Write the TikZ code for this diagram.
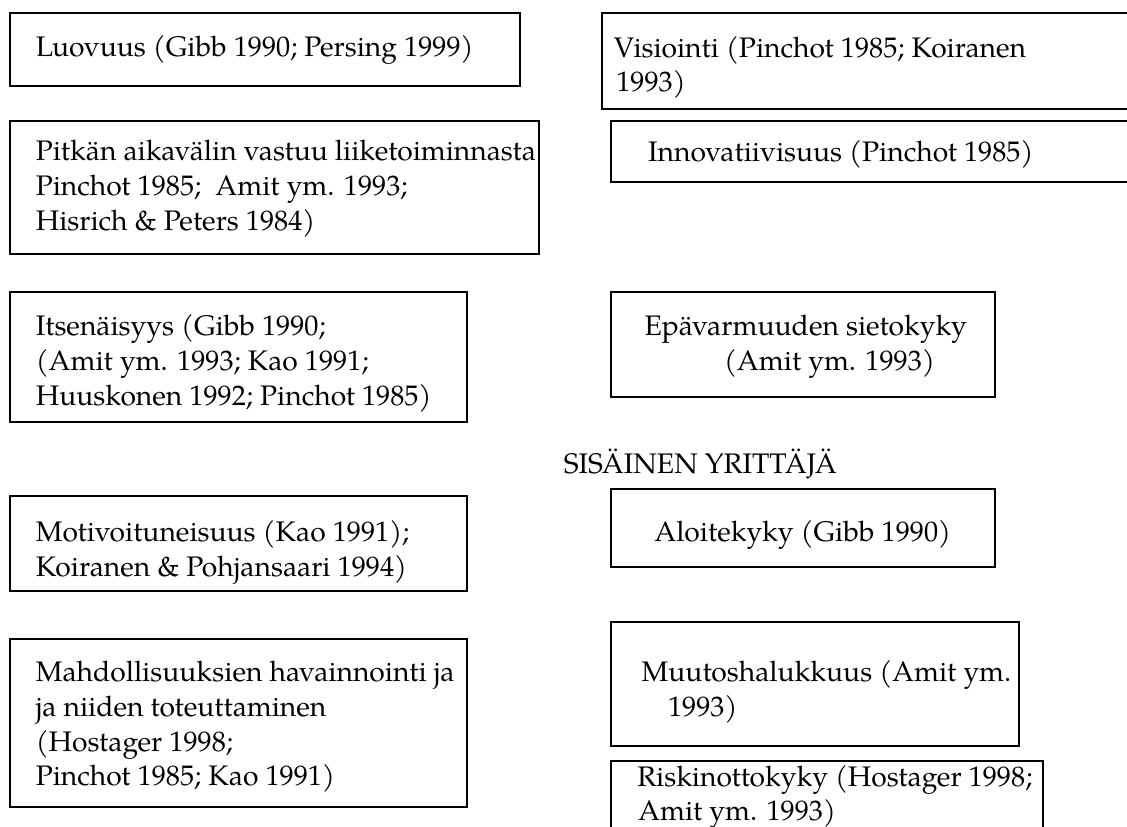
\documentclass[tikz,border=0pt]{standalone}
\usepackage{fontspec}
\setmainfont{TeX Gyre Pagella}
\usetikzlibrary{fit}
\begin{document}
\begin{tikzpicture}[x=0.75pt,y=-0.75pt,
  box/.style={draw=black, line width=1.5pt, inner sep=0pt, rectangle},
  txt/.style={anchor=base west, inner sep=0pt, font=\fontsize{21.2}{26}\selectfont}]
\useasboundingbox (0,0) rectangle (1127,827);
\clip (0,0) rectangle (1127,827);

% left column of traits
\node[box, fit={(10,13.3) (519.6,85.7)}] (luovuus) {};
\node[box, fit={(10,121) (539.3,254.3)}] (pitkan) {};
\node[box, fit={(10,292.3) (467.1,422.3)}] (itsen) {};
\node[box, fit={(10,495.7) (467.1,591)}] (motiv) {};
\node[box, fit={(10,639) (466.7,807)}] (mahd) {};

% right column of traits
\node[box, fit={(602.3,13.3) (1140,109.5)}] (visio) {};
\node[box, fit={(610.6,120.7) (1140,181.7)}] (innov) {};
\node[box, fit={(610.6,292.3) (995,397.3)}] (epav) {};
\node[box, fit={(610.6,489.3) (995,567)}] (aloite) {};
\node[box, fit={(610.6,621.7) (1019,746.3)}] (muutos) {};
\node[box, fit={(610.6,761) (1043.3,850)}] (riski) {};

% texts of the left column
\node[txt] (luo1) at (35.5,56.7) {Luovuus (Gibb 1990; Persing 1999)};

\node[txt] (pit1) at (35.5,161) {Pitkän aikavälin vastuu liiketoiminnasta};
\node[txt] (pit2) at (35.5,196) {Pinchot 1985;\ \ Amit ym. 1993;};
\node[txt] (pit3) at (35.5,230.5) {Hisrich \& Peters 1984)};

\node[txt] (its1) at (35.5,335) {Itsenäisyys (Gibb 1990;};
\node[txt] (its2) at (35.5,370.5) {(Amit ym. 1993; Kao 1991;};
\node[txt] (its3) at (35.5,405) {Huuskonen 1992; Pinchot 1985)};

\node[txt] (mot1) at (35.5,541.7) {Motivoituneisuus (Kao 1991);};
\node[txt] (mot2) at (35.5,576.5) {Koiranen \& Pohjansaari 1994)};

\node[txt] (mah1) at (35.5,681.7) {Mahdollisuuksien havainnointi ja};
\node[txt] (mah2) at (35.5,716.5) {ja niiden toteuttaminen};
\node[txt] (mah3) at (35.5,751.2) {(Hostager 1998;};
\node[txt] (mah4) at (35.5,785.5) {Pinchot 1985; Kao 1991)};

% texts of the right column
\node[txt] (vis1) at (613.5,57.3) {Visiointi (Pinchot 1985; Koiranen};
\node[txt] (vis2) at (616,91.7) {1993)};

\node[txt] (inn1) at (647.9,161.7) {Innovatiivisuus (Pinchot 1985)};

\node[txt] (epa1) at (644.3,335) {Epävarmuuden sietokyky};
\node[txt] (epa2) at (723.8,370) {(Amit ym. 1993)};

\node[txt] (title) at (563.6,473.3) {SISÄINEN YRITTÄJÄ};

\node[txt] (alo1) at (654,541.7) {Aloitekyky (Gibb 1990)};

\node[txt] (muu1) at (641.4,681.7) {Muutoshalukkuus (Amit ym.};
\node[txt] (muu2) at (667.8,716.7) {1993)};

\node[txt] (ris1) at (637,786) {Riskinottokyky (Hostager 1998;};
\node[txt] (ris2) at (637.8,820) {Amit ym. 1993)};
\end{tikzpicture}
\end{document}
